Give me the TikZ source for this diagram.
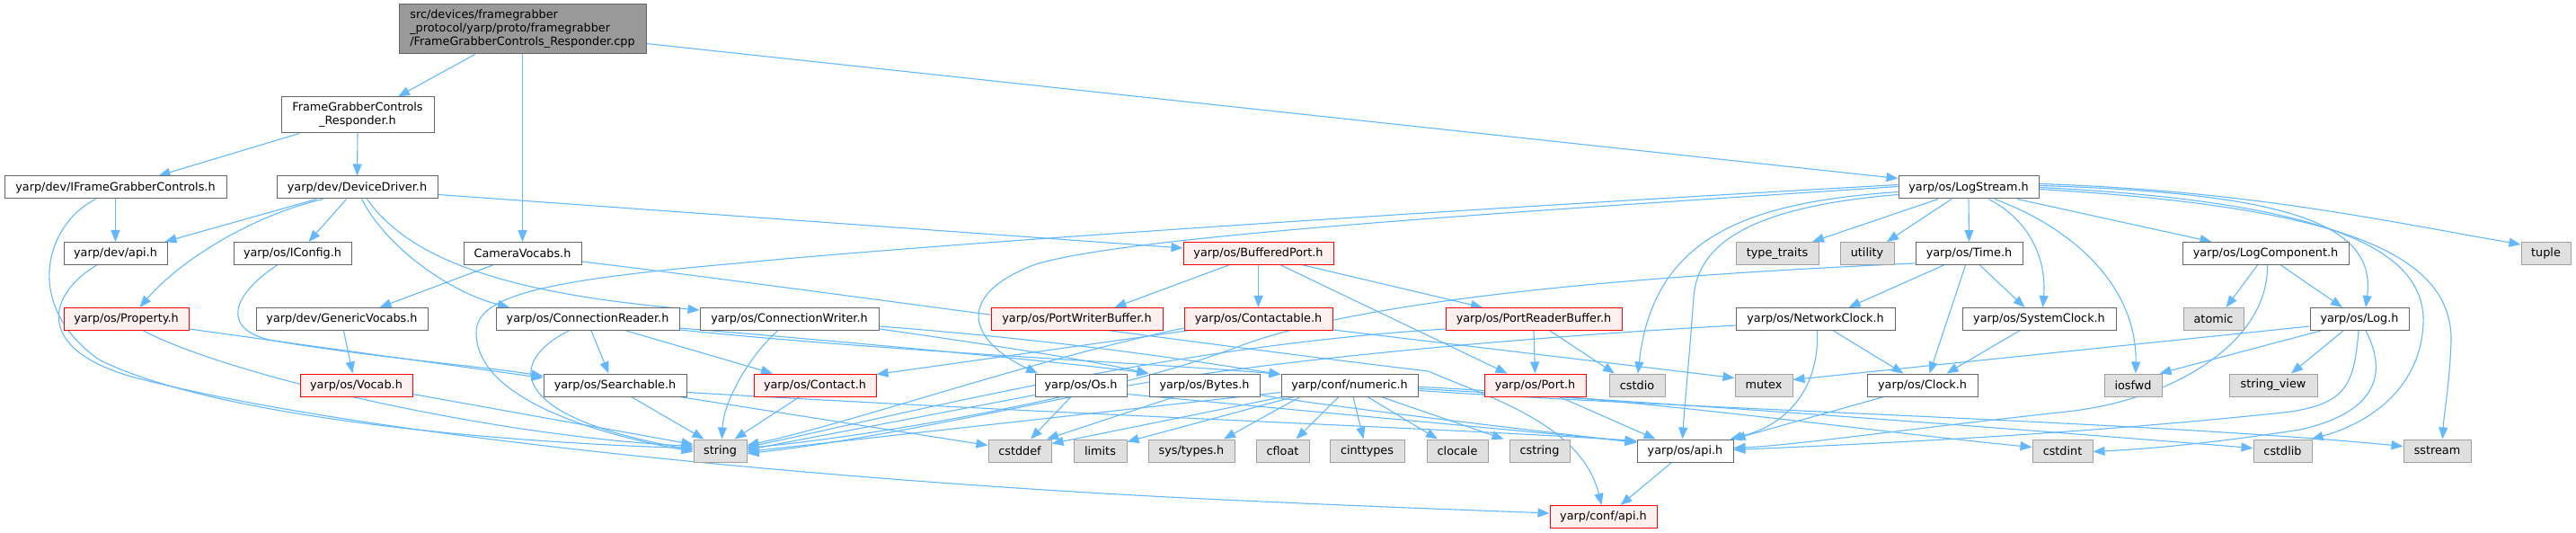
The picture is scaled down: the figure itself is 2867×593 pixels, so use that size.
\documentclass[tikz,border=0pt]{standalone}
\usepackage{fontspec}
\setmainfont{DejaVu Sans}
\usetikzlibrary{arrows.meta,backgrounds}
\definecolor{boxgray}{HTML}{666666}
\definecolor{sysgray}{HTML}{A0A0A0}
\definecolor{sysfill}{HTML}{E0E0E0}
\definecolor{cutfill}{HTML}{FFF0F0}
\definecolor{rootfill}{HTML}{999999}
\definecolor{linkblue}{HTML}{63B8FF}
\tikzset{
  incfile/.style={draw=boxgray, fill=white, line width=1pt, inner sep=0pt,
    minimum height=25pt, font=\fontsize{12.8}{15}\selectfont},
  sysfile/.style={incfile, draw=sysgray, fill=sysfill},
  cutfile/.style={incfile, draw=red, fill=cutfill},
  rootfile/.style={incfile, fill=rootfill, align=left},
  dep/.style={draw=linkblue, line width=1.1pt, -{Triangle[length=13pt,width=10pt]}}
}
\begin{document}
\begin{tikzpicture}[x=1pt, y=-1pt]
        \useasboundingbox (0,0) rectangle (2867,593);

        % top files
        \node[rootfile, minimum width=275pt, minimum height=55pt] (root) at (581.5,32.5)
            {src/devices/framegrabber\\\_protocol/yarp/proto/framegrabber\\/FrameGrabberControls\_Responder.cpp};
        \node[incfile, align=center, minimum width=170pt, minimum height=40pt] (resp) at (398,128)
            {FrameGrabberControls\\\_Responder.h};

        % row 2
        \node[incfile, minimum width=247pt] (ifgc) at (128.5,208.5) {yarp/dev/IFrameGrabberControls.h};
        \node[incfile, minimum width=179pt] (devdrv) at (397.5,208.5) {yarp/dev/DeviceDriver.h};
        \node[incfile, minimum width=156pt] (logstream) at (2191,208.5) {yarp/os/LogStream.h};

        % row 3
        \node[incfile, minimum width=115pt] (devapi) at (128.5,282) {yarp/dev/api.h};
        \node[incfile, minimum width=131pt] (iconfig) at (325.5,282) {yarp/os/IConfig.h};
        \node[incfile, minimum width=131pt] (camvoc) at (581.5,282) {CameraVocabs.h};
        \node[cutfile, minimum width=167pt] (bufport) at (1400.5,282) {yarp/os/BufferedPort.h};
        \node[sysfile, minimum width=92pt] (typetraits) at (1978,282) {type\_traits};
        \node[sysfile, minimum width=60pt] (utility) at (2078,282) {utility};
        \node[incfile, minimum width=119pt] (time) at (2191.5,282) {yarp/os/Time.h};
        \node[incfile, minimum width=185pt] (logcomp) at (2521.5,282) {yarp/os/LogComponent.h};
        \node[sysfile, minimum width=55pt] (tuple) at (2833.5,282) {tuple};

        % row 4
        \node[cutfile, minimum width=139pt] (property) at (140.5,355) {yarp/os/Property.h};
        \node[incfile, minimum width=191pt] (genvocabs) at (380.5,355) {yarp/dev/GenericVocabs.h};
        \node[incfile, minimum width=204pt] (connreader) at (654,355) {yarp/os/ConnectionReader.h};
        \node[incfile, minimum width=199pt] (connwriter) at (878.5,355) {yarp/os/ConnectionWriter.h};
        \node[cutfile, minimum width=191pt] (portwbuf) at (1198.5,355) {yarp/os/PortWriterBuffer.h};
        \node[cutfile, minimum width=165pt] (contactable) at (1400.5,355) {yarp/os/Contactable.h};
        \node[cutfile, minimum width=196pt] (portrbuf) at (1707,355) {yarp/os/PortReaderBuffer.h};
        \node[incfile, minimum width=177pt] (netclock) at (2020.5,355) {yarp/os/NetworkClock.h};
        \node[incfile, minimum width=171pt] (sysclock) at (2269.5,355) {yarp/os/SystemClock.h};
        \node[sysfile, minimum width=67pt] (atomic) at (2463.5,355) {atomic};
        \node[incfile, minimum width=110pt] (log) at (2626,355) {yarp/os/Log.h};

        % row 5
        \node[cutfile, minimum width=125pt] (vocab) at (396.5,428.5) {yarp/os/Vocab.h};
        \node[incfile, minimum width=159pt] (searchable) at (684.5,428.5) {yarp/os/Searchable.h};
        \node[cutfile, minimum width=136pt] (contact) at (907,428.5) {yarp/os/Contact.h};
        \node[incfile, minimum width=102pt] (os) at (1203,428.5) {yarp/os/Os.h};
        \node[incfile, minimum width=123pt] (bytes) at (1340.5,428.5) {yarp/os/Bytes.h};
        \node[incfile, minimum width=152pt] (numeric) at (1502,428.5) {yarp/conf/numeric.h};
        \node[cutfile, minimum width=113pt] (port) at (1708.5,428.5) {yarp/os/Port.h};
        \node[sysfile, minimum width=62pt] (cstdio) at (1822,428.5) {cstdio};
        \node[sysfile, minimum width=64pt] (mutex) at (1963,428.5) {mutex};
        \node[incfile, minimum width=123pt] (clock) at (2139.5,428.5) {yarp/os/Clock.h};
        \node[sysfile, minimum width=64pt] (iosfwd) at (2374,428.5) {iosfwd};
        \node[sysfile, minimum width=98pt] (stringview) at (2530,428.5) {string\_view};

        % row 6
        \node[sysfile, minimum width=59pt] (string) at (801.5,501.5) {string};
        \node[sysfile, minimum width=70pt] (cstddef) at (1135,501.5) {cstddef};
        \node[sysfile, minimum width=59pt] (limits) at (1224.5,501.5) {limits};
        \node[sysfile, minimum width=96pt] (systypes) at (1326,501.5) {sys/types.h};
        \node[sysfile, minimum width=59pt] (cfloat) at (1427.5,501.5) {cfloat};
        \node[sysfile, minimum width=83pt] (cinttypes) at (1521.5,501.5) {cinttypes};
        \node[sysfile, minimum width=68pt] (clocale) at (1622,501.5) {clocale};
        \node[sysfile, minimum width=67pt] (cstring) at (1713.5,501.5) {cstring};
        \node[incfile, minimum width=107pt] (osapi) at (1875.5,501.5) {yarp/os/api.h};
        \node[sysfile, minimum width=67pt] (cstdint) at (2295.5,501.5) {cstdint};
        \node[sysfile, minimum width=65pt] (cstdlib) at (2540.5,501.5) {cstdlib};
        \node[sysfile, minimum width=75pt] (sstream) at (2712.5,501.5) {sstream};

        % row 7
        \node[cutfile, minimum width=119pt] (confapi) at (1784.5,575) {yarp/conf/api.h};

        \begin{pgfonlayer}{background}
        % includes of the .cpp and the responder
        \draw[dep] ([xshift=-53pt]root.south) -- ([xshift=45pt]resp.north);
        \draw[dep] (root.south) -- (camvoc.north);
        \draw[dep] ([yshift=-16pt]root.east) -- ([yshift=10pt]logstream.west);
        \draw[dep] ([xshift=-65pt]resp.south) -- ([xshift=48pt]ifgc.north);
        \draw[dep] (resp.south) -- (devdrv.north);

        % device side
        \draw[dep] (ifgc.south) -- (devapi.north);
        \draw[dep] ([xshift=-22pt]ifgc.south) .. controls (50,250) and (25,340) .. (110,400)
            .. controls (250,470) and (600,494) .. ([yshift=3pt]string.west);
        \draw[dep] ([xshift=-21pt]devapi.south) .. controls (50,330) and (40,390) .. (150,420)
            .. controls (400,485) and (900,532) .. (1300,553)
            .. controls (1500,563) and (1650,568) .. ([yshift=4pt]confapi.west);
        \draw[dep] ([xshift=-45pt]devdrv.south) -- ([xshift=55pt]devapi.north);
        \draw[dep] ([xshift=-38pt]devdrv.south) .. controls (280,240) and (200,290) .. ([xshift=15pt]property.north);
        \draw[dep] ([xshift=-12pt]devdrv.south) -- ([xshift=18pt]iconfig.north);
        \draw[dep] ([xshift=5pt]devdrv.south) .. controls (430,275) and (500,325) .. ([xshift=-87pt]connreader.north);
        \draw[dep] ([xshift=11pt]devdrv.south) .. controls (450,280) and (540,325) .. ([yshift=10pt]connwriter.west);
        \draw[dep] ([yshift=-8pt]devdrv.east) -- ([yshift=6pt]bufport.west);
        \draw[dep] ([xshift=-17pt]iconfig.south) .. controls (255,330) and (245,370) .. (310,380)
            .. controls (420,398) and (540,408) .. ([yshift=10pt]searchable.west);
        \draw[dep] ([yshift=-11pt]property.east) -- ([yshift=8pt]searchable.west);
        \draw[dep] ([xshift=19pt]property.south) .. controls (260,420) and (550,485) .. ([yshift=5pt]string.west);
        \draw[dep] ([xshift=2pt]genvocabs.south) -- ([xshift=-4pt]vocab.north);
        \draw[dep] ([xshift=-33pt]camvoc.south) -- ([xshift=42pt]genvocabs.north);
        \draw[dep] ([yshift=-9pt]camvoc.east) .. controls (850,315) and (1350,385) .. (1590,413)
            .. controls (1650,440) and (1760,470) .. ([xshift=-2pt]confapi.north);
        \draw[dep] ([yshift=-10pt]vocab.east) -- ([yshift=7pt]string.west);

        % connection reader / writer
        \draw[dep] ([xshift=-21pt]connreader.south) .. controls (560,405) and (570,465) .. ([yshift=1pt]string.west);
        \draw[dep] ([xshift=4pt]connreader.south) -- ([xshift=-7pt]searchable.north);
        \draw[dep] ([xshift=43pt]connreader.south) -- ([xshift=-47pt]contact.north);
        \draw[dep] ([yshift=-10pt]connreader.east) .. controls (1000,385) and (1200,405) .. ([yshift=13pt]bytes.west);
        \draw[dep] ([yshift=-12pt]connreader.east) .. controls (1000,392) and (1300,405) .. ([yshift=12pt]numeric.west);
        \draw[dep] ([xshift=-13pt]connwriter.south) .. controls (830,400) and (805,450) .. ([xshift=2pt]string.north);
        \draw[dep] ([yshift=-8pt]connwriter.east) .. controls (1200,380) and (1350,405) .. ([yshift=12pt]numeric.west);
        \draw[dep] ([yshift=-11pt]connwriter.east) .. controls (1150,390) and (1230,405) .. ([yshift=13pt]bytes.west);
        \draw[dep] ([xshift=18pt]searchable.south) -- ([xshift=-18pt]string.north);
        \draw[dep] ([xshift=72pt]searchable.south) -- ([yshift=6pt]cstddef.west);
        \draw[dep] ([yshift=-8pt]searchable.east) .. controls (1200,462) and (1600,476) .. ([yshift=11pt]osapi.west);
        \draw[dep] ([xshift=-17pt]contact.south) -- ([xshift=16pt]string.north);

        % ports
        \draw[dep] ([xshift=-80pt]contactable.south) -- ([yshift=12pt]contact.east);
        \draw[dep] ([yshift=-10pt]contactable.west) .. controls (1150,400) and (950,470) .. ([yshift=6pt]string.east);
        \draw[dep] ([yshift=-12pt]contactable.east) -- ([yshift=8pt]mutex.west);
        \draw[dep] ([xshift=-33pt]bufport.south) -- ([xshift=42pt]portwbuf.north);
        \draw[dep] (bufport.south) -- (contactable.north);
        \draw[dep] ([xshift=25pt]bufport.south) -- ([xshift=-31pt]port.north);
        \draw[dep] ([xshift=50pt]bufport.south) -- ([xshift=-57pt]portrbuf.north);
        \draw[dep] (portrbuf.south) -- (port.north);
        \draw[dep] ([xshift=18pt]portrbuf.south) -- ([xshift=-25pt]cstdio.north);
        \draw[dep] ([yshift=-11pt]portrbuf.west) .. controls (1300,385) and (1000,462) .. ([yshift=4pt]string.east);
        \draw[dep] ([xshift=27pt]port.south) -- ([xshift=-33pt]osapi.north);

        % os, bytes, numeric
        \draw[dep] ([xshift=-11pt]os.south) -- ([xshift=12pt]cstddef.north);
        \draw[dep] ([yshift=-11pt]os.west) -- ([yshift=1pt]string.east);
        \draw[dep] ([yshift=-10pt]os.east) -- ([yshift=10pt]osapi.west);
        \draw[dep] ([xshift=-33pt]bytes.south) -- ([xshift=30pt]cstddef.north);
        \draw[dep] ([yshift=-11pt]bytes.east) .. controls (1500,455) and (1700,478) .. ([yshift=9pt]osapi.west);
        \draw[dep] ([xshift=-62pt]numeric.south) -- ([yshift=10pt]limits.east);
        \draw[dep] ([xshift=-55pt]numeric.south) -- ([xshift=36pt]systypes.north);
        \draw[dep] ([xshift=-74pt]numeric.south) -- ([yshift=8pt]cstddef.east);
        \draw[dep] ([yshift=-8pt]numeric.west) -- ([yshift=-1pt]string.east);
        \draw[dep] ([xshift=-12pt]numeric.south) -- ([xshift=15pt]cfloat.north);
        \draw[dep] ([xshift=4pt]numeric.south) -- ([xshift=-4pt]cinttypes.north);
        \draw[dep] ([xshift=20pt]numeric.south) -- ([xshift=-22pt]clocale.north);
        \draw[dep] ([xshift=35pt]numeric.south) -- ([xshift=-40pt]cstring.north);
        \draw[dep] ([yshift=-2pt]numeric.east) .. controls (1800,440) and (2100,482) .. ([yshift=4pt]cstdint.west);
        \draw[dep] ([yshift=-4pt]numeric.east) .. controls (1900,450) and (2300,482) .. ([yshift=3pt]cstdlib.west);
        \draw[dep] ([yshift=-6pt]numeric.east) .. controls (1900,456) and (2400,470) .. ([yshift=5pt]sstream.west);
        \draw[dep] ([xshift=-15pt]osapi.south) -- ([xshift=19pt]confapi.north);

        % log stream
        \draw[dep] ([xshift=-34pt]logstream.south) -- ([xshift=39pt]typetraits.north);
        \draw[dep] ([xshift=-19pt]logstream.south) -- ([xshift=22pt]utility.north);
        \draw[dep] (logstream.south) -- (time.north);
        \draw[dep] ([xshift=22pt]logstream.south) .. controls (2260,245) and (2278,290) .. ([xshift=4pt]sysclock.north);
        \draw[dep] ([xshift=29pt]logstream.south) .. controls (2310,255) and (2378,320) .. ([xshift=3pt]iosfwd.north);
        \draw[dep] ([xshift=54pt]logstream.south) -- ([xshift=-60pt]logcomp.north);
        \draw[dep] ([yshift=4pt]logstream.east) .. controls (2500,212) and (2650,245) .. ([yshift=10pt]tuple.west);
        \draw[dep] ([yshift=2pt]logstream.east) .. controls (2550,215) and (2645,250) .. ([xshift=7pt]log.north);
        \draw[dep] (logstream.east) .. controls (2600,225) and (2700,280) .. (2697,360)
            .. controls (2694,430) and (2640,470) .. ([xshift=32pt]cstdlib.north);
        \draw[dep] ([yshift=-2pt]logstream.east) .. controls (2600,230) and (2730,280) .. (2728,380)
            .. controls (2726,430) and (2720,460) .. ([xshift=6pt]sstream.north);
        \draw[dep] ([yshift=3pt]logstream.west) .. controls (1500,240) and (1000,275) .. (820,293)
            .. controls (600,312) and (530,330) .. (530,370)
            .. controls (530,440) and (650,480) .. ([yshift=-1pt]string.west);
        \draw[dep] ([yshift=1pt]logstream.west) .. controls (1700,235) and (1250,262) .. (1150,295)
            .. controls (1060,330) and (1080,380) .. ([xshift=-48pt]os.north);
        \draw[dep] ([yshift=-5pt]logstream.west) .. controls (1950,225) and (1840,260) .. ([xshift=1pt]cstdio.north);
        \draw[dep] ([yshift=-8pt]logstream.west) .. controls (1950,230) and (1890,270) .. (1885,330)
            .. controls (1880,400) and (1875,450) .. ([xshift=-3pt]osapi.north);

        % clocks
        \draw[dep] ([xshift=-28pt]time.south) -- ([xshift=37pt]netclock.north);
        \draw[dep] ([xshift=-4pt]time.south) -- ([xshift=8pt]clock.north);
        \draw[dep] ([xshift=12pt]time.south) -- ([xshift=-16pt]sysclock.north);
        \draw[dep] ([yshift=-11pt]time.west) .. controls (1750,310) and (1500,340) .. (1380,385)
            .. controls (1250,435) and (1000,482) .. ([yshift=3pt]string.east);
        \draw[dep] ([xshift=20pt]netclock.south) -- ([xshift=-21pt]clock.north);
        \draw[dep] ([xshift=2pt]netclock.south) .. controls (2025,420) and (2000,470) .. ([xshift=-4pt]osapi.north east);
        \draw[dep] ([yshift=-7pt]netclock.west) .. controls (1750,372) and (1450,395) .. (1250,430)
            .. controls (1100,460) and (950,492) .. ([yshift=-3pt]string.east);
        \draw[dep] ([xshift=-22pt]sysclock.south) -- ([xshift=27pt]clock.north);
        \draw[dep] ([xshift=-43pt]clock.south) -- (osapi.north east);

        % log
        \draw[dep] ([xshift=-9pt]logcomp.south) -- ([xshift=14pt]atomic.north);
        \draw[dep] ([xshift=17pt]logcomp.south) -- ([xshift=-19pt]log.north);
        \draw[dep] ([xshift=2pt]logcomp.south) .. controls (2525,380) and (2420,445) .. (2300,458)
            .. controls (2100,480) and (2000,495) .. ([yshift=3pt]osapi.east);
        \draw[dep] ([xshift=-43pt]log.south) -- ([xshift=-3pt]iosfwd.north east);
        \draw[dep] ([xshift=-18pt]log.south) -- ([xshift=20pt]stringview.north);
        \draw[dep] ([yshift=-8pt]log.west) -- ([yshift=6pt]mutex.east);
        \draw[dep] ([xshift=-1pt]log.south) .. controls (2620,430) and (2610,448) .. (2550,458)
            .. controls (2300,485) and (2050,495) .. ([yshift=1pt]osapi.east);
        \draw[dep] ([xshift=7pt]log.south) .. controls (2660,420) and (2640,460) .. (2560,478)
            .. controls (2450,495) and (2380,500) .. ([yshift=-1pt]cstdint.east);
        \end{pgfonlayer}
    \end{tikzpicture}
\end{document}
